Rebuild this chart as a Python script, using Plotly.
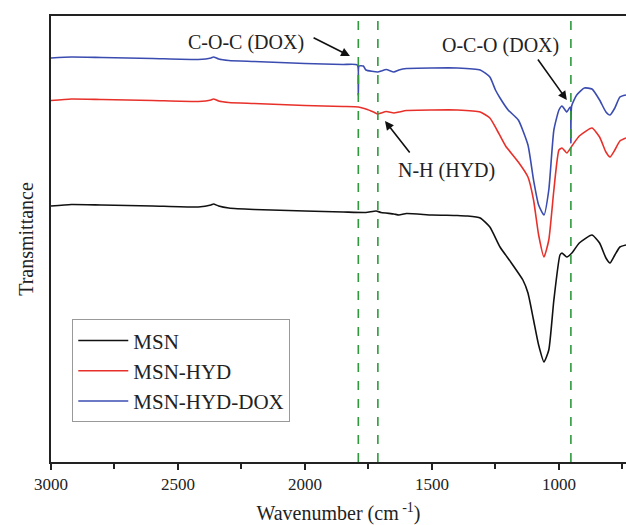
import plotly.graph_objects as go

# Wavenumber (cm^-1) and transmittance (arbitrary units, offset spectra)
wn_msn = [3000, 2920, 2800, 2600, 2420, 2370, 2360, 2340, 2300, 2200, 2000, 1850, 1760, 1720,
          1700, 1650, 1630, 1600, 1500, 1400, 1362, 1310, 1272, 1232, 1190, 1142, 1122, 1100,
          1080, 1059, 1040, 1020, 996, 988, 969, 949, 920, 870, 840, 815, 799, 780, 760, 736]
t_msn = [256, 257.5, 257, 256, 255, 257, 258, 256, 254, 252.5, 251, 250, 249.5, 251,
         249.5, 248, 247, 248.5, 247, 246.5, 246, 244, 235, 215, 200, 182, 169, 142,
         117, 100, 112, 162, 207, 209, 205, 209, 219, 227, 219, 204, 199, 207, 215, 217]

wn_hyd = [3000, 2920, 2800, 2600, 2420, 2370, 2360, 2340, 2300, 2200, 2000, 1850, 1790, 1760,
          1730, 1713, 1700, 1680, 1650, 1630, 1600, 1500, 1400, 1310, 1272, 1244, 1210, 1160,
          1122, 1100, 1080, 1059, 1040, 1020, 1000, 988, 969, 949, 920, 870, 840, 815, 799,
          780, 760, 736]
t_hyd = [361.5, 363, 362.5, 361.5, 360.5, 362, 363, 361, 359.5, 358.5, 356.5, 355.5, 355, 353,
         350, 348, 349, 350.5, 349, 350, 351.5, 352, 352, 350, 344, 332, 316, 300,
         285, 262, 227, 205, 222, 272, 312, 314, 309, 316, 326, 334, 325, 310, 305,
         312, 321, 324]

wn_dox = [3000, 2920, 2800, 2600, 2420, 2370, 2360, 2340, 2300, 2200, 2000, 1850, 1794, 1790,
          1787, 1770, 1760, 1713, 1700, 1680, 1650, 1630, 1600, 1500, 1400, 1310, 1272, 1250,
          1232, 1200, 1160, 1122, 1100, 1080, 1059, 1040, 1020, 1000, 988, 969, 956, 953,
          950, 930, 900, 870, 840, 815, 799, 780, 760, 736]
t_dox = [404, 405, 404.5, 403.5, 402.5, 404, 405, 403, 401.5, 400.5, 398.5, 397.5, 397, 367,
         396, 396, 392, 390, 391, 392.5, 390, 392, 393.5, 394, 394, 392, 385, 372,
         364, 352, 342, 317, 282, 257, 247, 272, 332, 352, 356, 350, 355, 319,
         356, 367, 374, 373, 362, 350, 347, 354, 365, 367]

series_names = ["MSN", "MSN-HYD", "MSN-HYD-DOX"]
series_colors = ["#111111", "#e8302a", "#3b4cb0"]
marker_lines = [1790, 1713, 953]

tick_vals = [3000, 2500, 2000, 1500, 1000]
tick_text = ["3000", "2500", "2000", "1500", "1000"]
minor_vals = [2750, 2250, 1750, 1250, 750]

FONT = "Liberation Serif"

fig = go.Figure()
for wn, t, name, col in zip([wn_msn, wn_hyd, wn_dox], [t_msn, t_hyd, t_dox], series_names, series_colors):
    fig.add_trace(go.Scatter(x=wn, y=t, mode="lines", name=name,
                             line=dict(color=col, width=1.6, shape="spline", smoothing=0.5)))

for xv in marker_lines:
    fig.add_shape(type="line", xref="x", yref="paper", x0=xv, x1=xv, y0=0, y1=1,
                  line=dict(color="#2e9a3c", width=1.6, dash="dash"))

def arrow(hx, hy, tx, ty):
    fig.add_annotation(x=hx, y=hy, ax=tx, ay=ty, xref="x", yref="y", axref="x", ayref="y",
                       text="", showarrow=True, arrowhead=2, arrowsize=1.1, arrowwidth=1.6,
                       arrowcolor="#111111")

def label(x, y, txt):
    fig.add_annotation(x=x, y=y, xref="x", yref="y", text=txt, showarrow=False,
                       font=dict(family=FONT, size=20, color="#222222"))

arrow(1823, 406, 1972, 425)
label(2232, 420, "C-O-C (DOX)")
arrow(969, 362, 1087, 404)
label(1232, 417, "O-C-O (DOX)")
arrow(1685, 341, 1583, 308)
label(1441, 292, "N-H (HYD)")

fig.update_layout(
    width=626, height=525,
    margin=dict(l=51, r=0, t=16, b=63),
    paper_bgcolor="white", plot_bgcolor="white",
    font=dict(family=FONT, size=17, color="#222222"),
    showlegend=True,
    legend=dict(x=0.037, y=0.32, xanchor="left", yanchor="top",
                bordercolor="#999999", borderwidth=1, bgcolor="white",
                font=dict(family=FONT, size=21, color="#222222"),
                itemwidth=50, tracegroupgap=0),
    xaxis=dict(range=[3000, 736], showgrid=False, zeroline=False,
               showline=True, linecolor="#222222", linewidth=1.6, mirror=True,
               ticks="outside", ticklen=6, tickwidth=1.6, tickcolor="#222222",
               tickvals=tick_vals, ticktext=tick_text,
               minor=dict(tickvals=minor_vals, ticks="outside", ticklen=5, tickwidth=1.6,
                          tickcolor="#222222"),
               tickfont=dict(family=FONT, size=17),
               title=dict(text="Wavenumber (cm<sup> -1</sup>)", font=dict(family=FONT, size=20),
                          standoff=18)),
    yaxis=dict(range=[0, 446], showgrid=False, zeroline=False, showticklabels=False,
               showline=True, linecolor="#222222", linewidth=1.6, mirror=False, ticks="",
               title=dict(text="Transmittance", font=dict(family=FONT, size=20), standoff=10)),
)

fig.write_html("out.html")
